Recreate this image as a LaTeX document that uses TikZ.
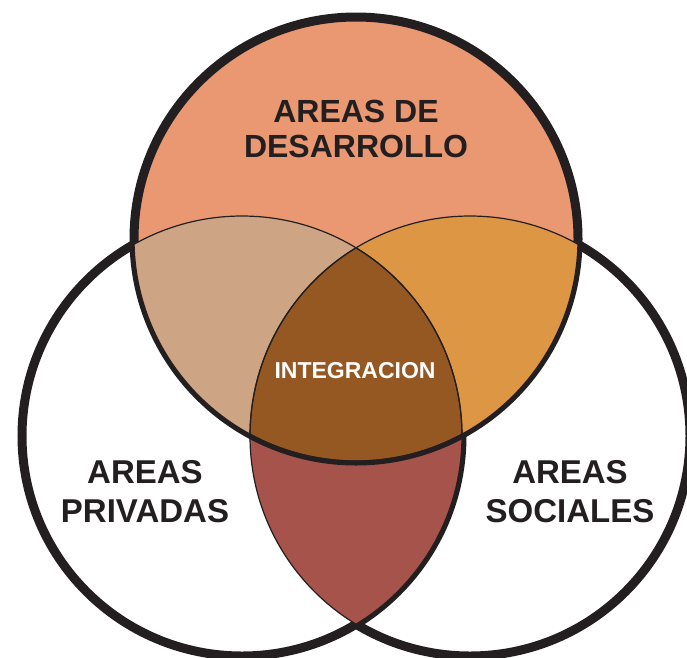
\documentclass[tikz,border=0pt]{standalone}
\usepackage{fontspec}
\setmainfont{Liberation Sans}
\usepackage{tikz}

\definecolor{ink}{HTML}{231F20}
\definecolor{desarrollo}{HTML}{E99871}
\definecolor{privdes}{HTML}{CDA484}
\definecolor{socdes}{HTML}{DC9644}
\definecolor{integ}{HTML}{955823}
\definecolor{privsoc}{HTML}{A6534B}

\begin{document}
\begin{tikzpicture}[x=1pt,y=-1pt,
    ring/.style={draw=ink, line width=9pt},
    seam/.style={draw=ink, line width=1.2pt},
    areatext/.style={font=\bfseries\fontsize{33}{39}\selectfont, text=ink, align=center}]
    % Frame of the picture
    \useasboundingbox (0,0) rectangle (687,657);
    \clip (0,0) rectangle (687,657);

    % Circle centres
    \coordinate (top) at (356,239);
    \coordinate (lft) at (242,436);
    \coordinate (rgt) at (470,436);
    \def\rad{220pt}
    \def\toprad{222pt}

    % Lower circles
    \draw[ring, fill=white] (rgt) circle (\rad);
    \draw[ring, fill=white] (lft) circle (\rad);
    \begin{scope}
        \clip (lft) circle (\rad);
        \fill[privsoc] (rgt) circle (\rad);
    \end{scope}

    % Top circle
    \draw[ring, fill=desarrollo] (top) circle (\toprad);

    % Overlaps with the top circle
    \begin{scope}
        \clip (top) circle (\toprad);
        \fill[privdes] (lft) circle (\rad);
        \fill[socdes] (rgt) circle (\rad);
        \clip (lft) circle (\rad);
        \fill[integ] (rgt) circle (\rad);
    \end{scope}

    % Thin seams between the regions
    \begin{scope}
        \clip (top) circle (\toprad);
        \draw[seam] (lft) circle (\rad);
        \draw[seam] (rgt) circle (\rad);
    \end{scope}
    \begin{scope}
        \clip (lft) circle (\rad);
        \draw[seam] (rgt) circle (\rad);
        \draw[seam] (top) circle (\toprad);
    \end{scope}
    \begin{scope}
        \clip (rgt) circle (\rad);
        \draw[seam] (lft) circle (\rad);
        \draw[seam] (top) circle (\toprad);
    \end{scope}

    % Labels
    \node[areatext, font=\bfseries\fontsize{32}{35}\selectfont] (dev) at (356,129) {AREAS DE\\DESARROLLO};
    \node[areatext, text=white, font=\bfseries\fontsize{23}{27}\selectfont] (mid) at (355,371) {INTEGRACION};
    \node[areatext] (priv) at (145,492) {AREAS\\PRIVADAS};
    \node[areatext] (soc) at (570,492) {AREAS\\SOCIALES};
\end{tikzpicture}
\end{document}
